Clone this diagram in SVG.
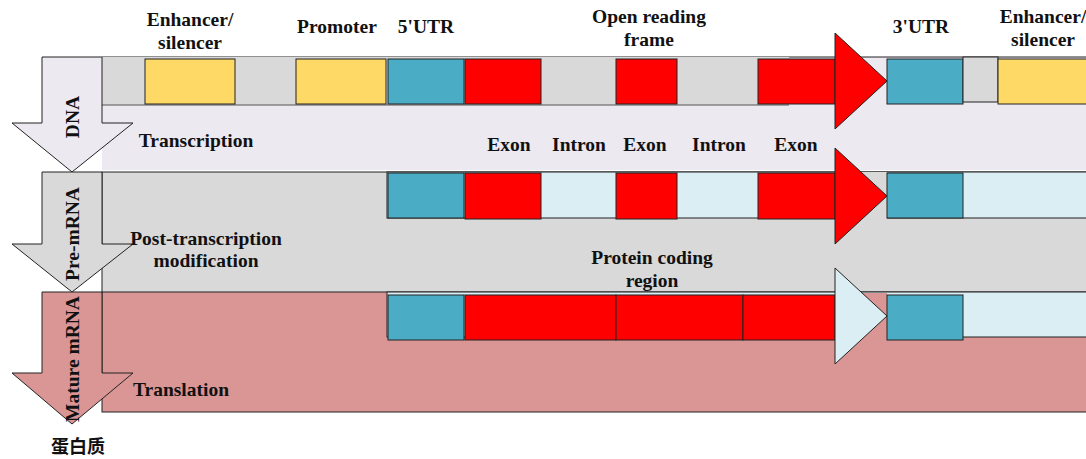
<svg xmlns="http://www.w3.org/2000/svg" width="1086" height="459" viewBox="0 0 1086 459">
<style>
.t{font-family:"Liberation Serif","Times New Roman",serif;font-weight:bold;font-size:19.5px;fill:#111;text-anchor:middle}
.b{stroke:#222;stroke-width:1}
.y{fill:#FFD966}.bl{fill:#4BACC6}.r{fill:#FF0000}.g{fill:#D9D9D9}.lb{fill:#DBEEF4}.lv{fill:#ECE9F1}.pk{fill:#D99694}
</style>
<rect width="1086" height="459" fill="#fff"/>
<g id="bands">
<rect class="lv" x="102" y="57" width="990" height="113"/>
<line x1="102" y1="57" x2="1086" y2="57" stroke="#222"/>
<rect class="g b" x="102" y="172" width="990" height="121"/>
<rect class="pk b" x="102" y="292" width="990" height="120"/>
</g>
<g id="dna-row">
<rect class="g" x="102" y="57" width="687" height="48"/>
<line x1="102" y1="105" x2="789" y2="105" stroke="#555"/>
<rect class="y b" x="145" y="59" width="90" height="45"/>
<rect class="y b" x="296" y="59" width="90" height="45"/>
<rect class="bl b" x="388" y="59" width="76" height="45"/>
<rect class="r b" x="465" y="59" width="76" height="45"/>
<rect class="r b" x="616" y="59" width="61" height="45"/>
<rect class="r b" x="758" y="59" width="77" height="45"/>
<polygon class="r b" points="835,33 887,81 835,129"/>
<rect class="bl b" x="887" y="59" width="76" height="45"/>
<rect class="g b" x="963" y="57" width="35" height="45"/>
<rect class="y b" x="998" y="59" width="92" height="45"/>
</g>
<g id="premrna-row">
<rect class="lb b" x="387" y="172" width="700" height="46"/>
<rect class="bl b" x="388" y="173" width="76" height="45"/>
<rect class="r b" x="465" y="173" width="76" height="46"/>
<rect class="r b" x="616" y="173" width="61" height="46"/>
<rect class="r b" x="758" y="173" width="77" height="46"/>
<rect class="g" x="836" y="172" width="51" height="48"/>
<polygon class="r b" points="835,148 887,196 835,244"/>
<rect class="bl b" x="887" y="173" width="76" height="45"/>
</g>
<g id="mature-row">
<rect class="lb b" x="387" y="292" width="700" height="45"/>
<rect class="pk" x="836" y="293" width="51" height="46"/>
<rect class="bl b" x="388" y="295" width="76" height="45"/>
<rect class="r b" x="465" y="295" width="151" height="45"/>
<rect class="r b" x="616" y="295" width="127" height="45"/>
<rect class="r b" x="743" y="295" width="92" height="45"/>
<polygon class="lb b" points="835,268 887,316 835,364"/>
<rect class="bl b" x="887" y="295" width="76" height="45"/>
</g>
<g id="arrow-dna">
<polygon class="lv b" points="42,57 102,57 102,123 133,123 72,172 12,123 42,123"/>
<text class="t" transform="translate(79,117) rotate(-90)">DNA</text>
</g>
<g id="arrow-premrna">
<polygon class="g b" points="42,172 102,172 102,244 133,244 72,292 12,244 42,244"/>
<text class="t" transform="translate(79,234) rotate(-90)">Pre-mRNA</text>
</g>
<g id="arrow-mature">
<polygon class="pk b" points="42,292 102,292 102,373 133,373 72,424 12,373 42,373"/>
<text class="t" transform="translate(79,359) rotate(-90)">Mature mRNA</text>
</g>
<g id="labels">
<text class="t" x="190" y="26">Enhancer/</text>
<text class="t" x="190" y="49">silencer</text>
<text class="t" x="337" y="33">Promoter</text>
<text class="t" x="426" y="33">5'UTR</text>
<text class="t" x="649" y="23">Open reading</text>
<text class="t" x="649" y="46">frame</text>
<text class="t" x="921" y="33">3'UTR</text>
<text class="t" x="1043" y="23">Enhancer/</text>
<text class="t" x="1043" y="46">silencer</text>
<text class="t" x="196" y="147">Transcription</text>
<text class="t" x="509" y="151">Exon</text>
<text class="t" x="579" y="151">Intron</text>
<text class="t" x="645" y="151">Exon</text>
<text class="t" x="719" y="151">Intron</text>
<text class="t" x="796" y="151">Exon</text>
<text class="t" x="206" y="245">Post-transcription</text>
<text class="t" x="206" y="267">modification</text>
<text class="t" x="652" y="264">Protein coding</text>
<text class="t" x="652" y="287">region</text>
<text class="t" x="181" y="396">Translation</text>
<text class="t" x="78" y="453" style="font-family:'Liberation Serif','Noto Sans CJK SC',serif;font-size:18px">蛋白质</text>
</g>
</svg>
